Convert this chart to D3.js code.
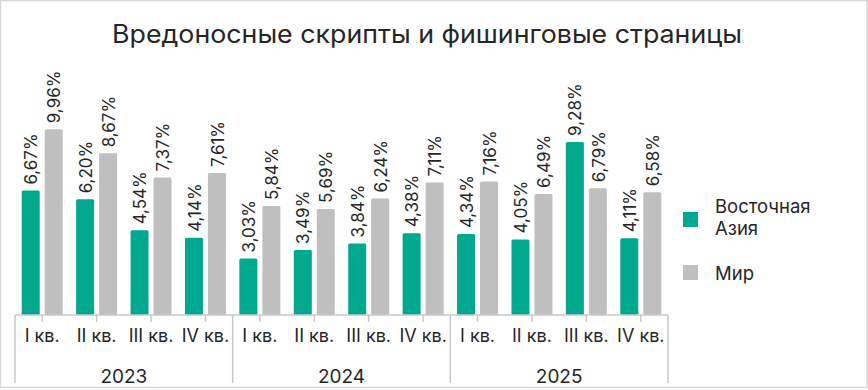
<!DOCTYPE html>
<html><head><meta charset="utf-8">
<script src="https://cdn.jsdelivr.net/npm/d3@7"></script>
<style>html,body{margin:0;padding:0;background:#fff;} svg{display:block;font-family:Inter,"Noto Sans",sans-serif;}</style>
</head><body>
<svg id="chart" width="868" height="390"></svg>
<script>
const title = "Вредоносные скрипты и фишинговые страницы";
const years = ["2023", "2024", "2025"];
const quarters = ["I кв.", "II кв.", "III кв.", "IV кв."];
const seriesNames = ["Восточная Азия", "Мир"];
const asiaValues = [6.67, 6.20, 4.54, 4.14, 3.03, 3.49, 3.84, 4.38, 4.34, 4.05, 9.28, 4.11];
const worldValues = [9.96, 8.67, 7.37, 7.61, 5.84, 5.69, 6.24, 7.11, 7.16, 6.49, 6.79, 6.58];
const colors = ["#00A88E", "#BFBFBF"];

const rows = [];
years.forEach((y, yi) => quarters.forEach((q, qi) => {
  const i = yi * 4 + qi;
  rows.push({ key: y + "-" + q, year: y, quarter: q, values: [asiaValues[i], worldValues[i]] });
}));

const svg = d3.select("#chart");
const textColor = "#262626";
const axisColor = "#C8C8C8";

// frame
svg.append("rect").attr("x", 0.5).attr("y", 0.5).attr("width", 866.5).attr("height", 387)
  .attr("fill", "#fff").attr("stroke", "#D9D9D9").attr("stroke-width", 1.5);

// title
svg.append("text").attr("x", 427).attr("y", 43).attr("text-anchor", "middle")
  .attr("font-size", 25).attr("fill", textColor)
  .attr("textLength", 630).attr("lengthAdjust", "spacingAndGlyphs")
  .text(title);

const left = 15, right = 668, baseline = 315;
const x0 = d3.scaleBand().domain(rows.map(d => d.key)).range([left, right]).padding(0);
const x1 = d3.scaleBand().domain([0, 1]).range([6.7, x0.bandwidth() - 6.7]).paddingInner(0.217).paddingOuter(0);
const y = d3.scaleLinear().domain([0, 12]).range([baseline, baseline - 12 * 18.65]);

const fmt = v => v.toFixed(2).replace(".", ",") + "%";

const g = svg.append("g");
const cat = g.selectAll("g.cat").data(rows).join("g").attr("class", "cat")
  .attr("transform", d => `translate(${x0(d.key)},0)`);

cat.selectAll("rect").data(d => d.values.map((v, i) => ({ v, i }))).join("rect")
  .attr("x", d => x1(d.i)).attr("width", x1.bandwidth())
  .attr("y", d => y(d.v)).attr("height", d => baseline - y(d.v))
  .attr("rx", 1.5).attr("fill", d => colors[d.i]);

cat.selectAll("text.val").data(d => d.values.map((v, i) => ({ v, i }))).join("text")
  .attr("class", "val")
  .attr("transform", d => `translate(${x1(d.i) + x1.bandwidth() / 2 + 0.5},${y(d.v) - 6}) rotate(-90)`)
  .attr("dy", "0.36em").attr("font-size", 17).attr("fill", textColor)
  .text(d => fmt(d.v));

// axis line
g.append("line").attr("x1", left).attr("x2", right).attr("y1", baseline).attr("y2", baseline)
  .attr("stroke", axisColor).attr("stroke-width", 1.5);
// quarter ticks
g.selectAll("line.qt").data(rows).join("line").attr("class", "qt")
  .attr("x1", d => x0(d.key) + x0.bandwidth() / 2).attr("x2", d => x0(d.key) + x0.bandwidth() / 2)
  .attr("y1", baseline).attr("y2", baseline + 7).attr("stroke", axisColor).attr("stroke-width", 1.5);
// group separators
const yearScale = d3.scaleBand().domain(years).range([left, right]).padding(0);
const seps = years.map(yr => yearScale(yr)).concat([right]);
g.selectAll("line.sep").data(seps).join("line").attr("class", "sep")
  .attr("x1", d => d).attr("x2", d => d).attr("y1", baseline).attr("y2", 383)
  .attr("stroke", axisColor).attr("stroke-width", 1.5);
// quarter labels
g.selectAll("text.q").data(rows).join("text").attr("class", "q")
  .attr("x", d => x0(d.key) + x0.bandwidth() / 2).attr("y", 342)
  .attr("text-anchor", "middle").attr("font-size", 18).attr("fill", textColor)
  .text(d => d.quarter);
// year labels
g.selectAll("text.yr").data(years).join("text").attr("class", "yr")
  .attr("x", d => yearScale(d) + yearScale.bandwidth() / 2).attr("y", 383)
  .attr("text-anchor", "middle").attr("font-size", 19).attr("fill", textColor)
  .text(d => d);

// legend
const leg = svg.append("g");
const legY = [212, 265];
seriesNames.forEach((name, i) => {
  leg.append("rect").attr("x", 683).attr("y", legY[i]).attr("width", 15).attr("height", 15).attr("fill", colors[i]);
});
const l1 = leg.append("text").attr("x", 715).attr("font-size", 18.5).attr("fill", textColor);
l1.append("tspan").attr("x", 715).attr("y", 213).text("Восточная");
l1.append("tspan").attr("x", 715).attr("y", 235).text("Азия");
leg.append("text").attr("x", 715).attr("y", 280).attr("font-size", 18.5).attr("fill", textColor).text(seriesNames[1]);
</script>
</body></html>
